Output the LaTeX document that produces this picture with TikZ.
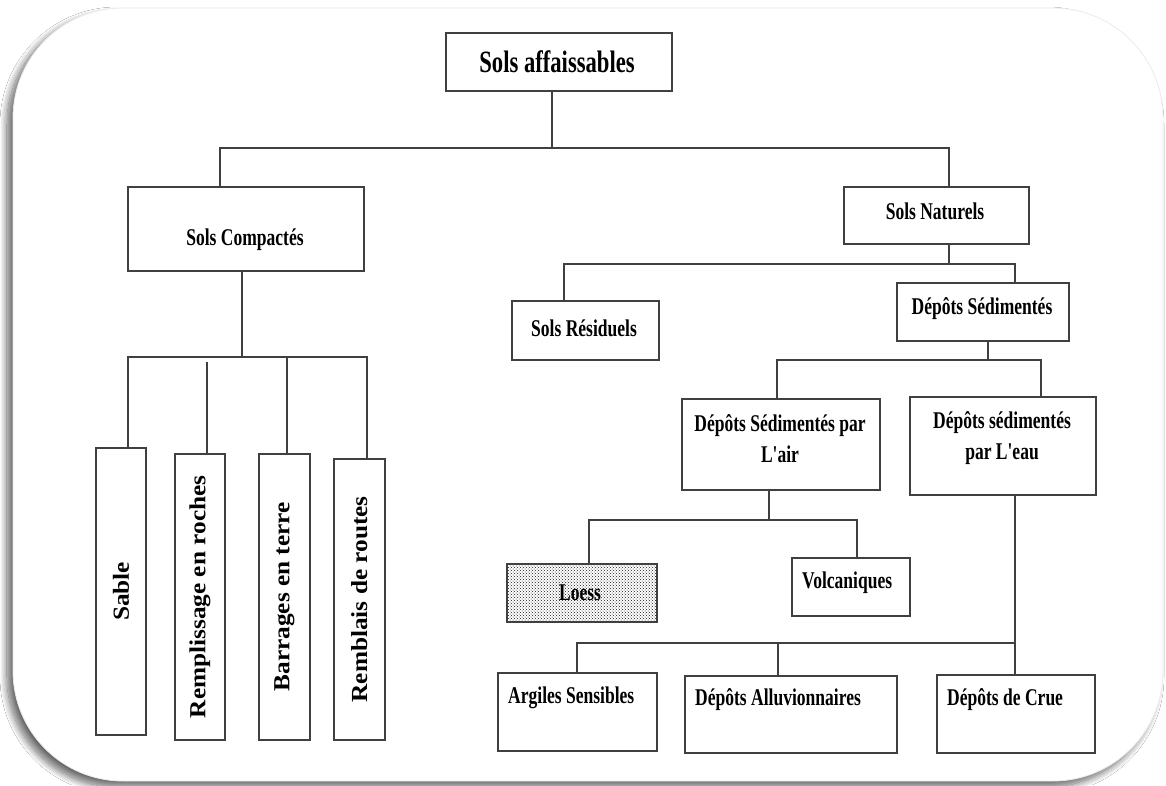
\documentclass[tikz,border=0pt]{standalone}
\usepackage{fontspec}
\usetikzlibrary{patterns,shadows.blur}
\newfontfamily\lblfont{Liberation Serif}[FakeStretch=0.73,Ligatures=TeXOff]
\newfontfamily\vlblfont{Liberation Serif}[FakeStretch=1.1,Ligatures=TeXOff]
\definecolor{linec}{HTML}{404040}
\tikzset{
  box/.style={draw=linec, line width=1.8pt, rectangle, inner sep=0pt, anchor=north west},
  conn/.style={draw=linec, line width=1.6pt},
  lbl/.style={inner sep=0pt, align=center, text=black, font=\lblfont\bfseries\fontsize{24}{31}\selectfont},
  lblw/.style={lbl, anchor=west},
  vlbl/.style={inner sep=0pt, rotate=90, text=black, font=\vlblfont\bfseries\fontsize{23}{26}\selectfont},
  frame/.style={draw=black!8, line width=0.8pt, fill=white, rounded corners=110pt,
    blur shadow={shadow xshift=-6pt, shadow yshift=-6pt, shadow opacity=60, shadow blur radius=7pt, shadow blur steps=14}}
}
\begin{document}
\begin{tikzpicture}[x=1pt,y=-1pt]
\useasboundingbox (0,0) rectangle (1166,785);
\fill[white] (0,0) rectangle (1166,785);
\path[frame] (13,8) rectangle (1163,781);

% boxes
\node[box, minimum width=226pt, minimum height=58pt] (sa) at (445,32) {};
\node[box, minimum width=236pt, minimum height=84pt] (sc) at (127,186) {};
\node[box, minimum width=185pt, minimum height=57pt] (sn) at (843,186) {};
\node[box, minimum width=50pt, minimum height=287pt] (sable) at (95,447) {};
\node[box, minimum width=50pt, minimum height=286pt] (remp) at (174,453) {};
\node[box, minimum width=51pt, minimum height=286pt] (barr) at (258,453) {};
\node[box, minimum width=51pt, minimum height=281pt] (rembl) at (333,458) {};
\node[box, minimum width=147pt, minimum height=59pt] (sr) at (511,300) {};
\node[box, minimum width=172pt, minimum height=58pt] (ds) at (896,282) {};
\node[box, minimum width=198pt, minimum height=91pt] (air) at (681,398) {};
\node[box, minimum width=186pt, minimum height=98pt] (eau) at (909,396) {};
\node[box, minimum width=150pt, minimum height=58pt, pattern=crosshatch dots, pattern color=black!90] (loess) at (506,563) {};
\node[box, minimum width=118pt, minimum height=58pt] (volc) at (791,557) {};
\node[box, minimum width=159pt, minimum height=78pt] (arg) at (497,672) {};
\node[box, minimum width=212pt, minimum height=77pt] (allu) at (684,675) {};
\node[box, minimum width=158pt, minimum height=78pt] (crue) at (936,674) {};

% labels
\node[lbl, font=\lblfont\bfseries\fontsize{31}{34}\selectfont] (tsa) at (557,62) {Sols affaissables};
\node[lbl] (tsc) at (245,240) {Sols Compactés};
\node[lbl] (tsn) at (935,211) {Sols Naturels};
\node[vlbl] (tsable) at (sable.center) {Sable};
\node[vlbl] (tremp) at (remp.center) {Remplissage en roches};
\node[vlbl] (tbarr) at (barr.center) {Barrages en terre};
\node[vlbl] (trembl) at (rembl.center) {Remblais de routes};
\node[lbl] (tsr) at (584,328) {Sols Résiduels};
\node[lbl] (tds) at (982,309) {Dépôts Sédimentés};
\node[lbl] (tair) at (780,439) {Dépôts Sédimentés par\\L'air};
\node[lbl] (teau) at (1002,438) {Dépôts sédimentés\\par L'eau};
\node[lbl] (tloess) at (580,593) {Loess};
\node[lblw] (tvolc) at (802,583) {Volcaniques};
\node[lblw] (targ) at (508,698) {Argiles Sensibles};
\node[lblw] (tallu) at (695,700) {Dépôts Alluvionnaires};
\node[lblw] (tcrue) at (947,700) {Dépôts de Crue};

% guide coordinates
\coordinate (x128) at (128,0);
\coordinate (x207) at (207,0);
\coordinate (x220) at (220,0);
\coordinate (x242) at (242,0);
\coordinate (x287) at (287,0);
\coordinate (x367) at (367,0);
\coordinate (x552) at (552,0);
\coordinate (x564) at (564,0);
\coordinate (x577) at (577,0);
\coordinate (x589) at (589,0);
\coordinate (x769) at (769,0);
\coordinate (x777) at (777,0);
\coordinate (x778) at (778,0);
\coordinate (x857) at (857,0);
\coordinate (x949) at (949,0);
\coordinate (x988) at (988,0);
\coordinate (x1015) at (1015,0);
\coordinate (x1041) at (1041,0);

% connectors
\draw[conn] (sa.south -| x552) -- (552,148);
\draw[conn] (sc.north -| x220) -- (220,148) -- (949,148) -- (sn.north -| x949);

\draw[conn] (sc.south -| x242) -- (242,357);
\draw[conn] (sable.north -| x128) -- (128,357) -- (367,357) -- (rembl.north -| x367);
\draw[conn] (remp.north -| x207) -- (207,362);
\draw[conn] (barr.north -| x287) -- (287,357);

\draw[conn] (sn.south -| x949) -- (949,264);
\draw[conn] (sr.north -| x564) -- (564,264) -- (1015,264) -- (ds.north -| x1015);

\draw[conn] (ds.south -| x988) -- (988,360);
\draw[conn] (air.north -| x777) -- (777,360) -- (1041,360) -- (eau.north -| x1041);

\draw[conn] (air.south -| x769) -- (769,520);
\draw[conn] (loess.north -| x589) -- (589,520) -- (857,520) -- (volc.north -| x857);

\draw[conn] (eau.south -| x1015) -- (crue.north -| x1015);
\draw[conn] (arg.north -| x577) -- (577,643) -- (1015,643);
\draw[conn] (allu.north -| x778) -- (778,643);
\end{tikzpicture}
\end{document}
